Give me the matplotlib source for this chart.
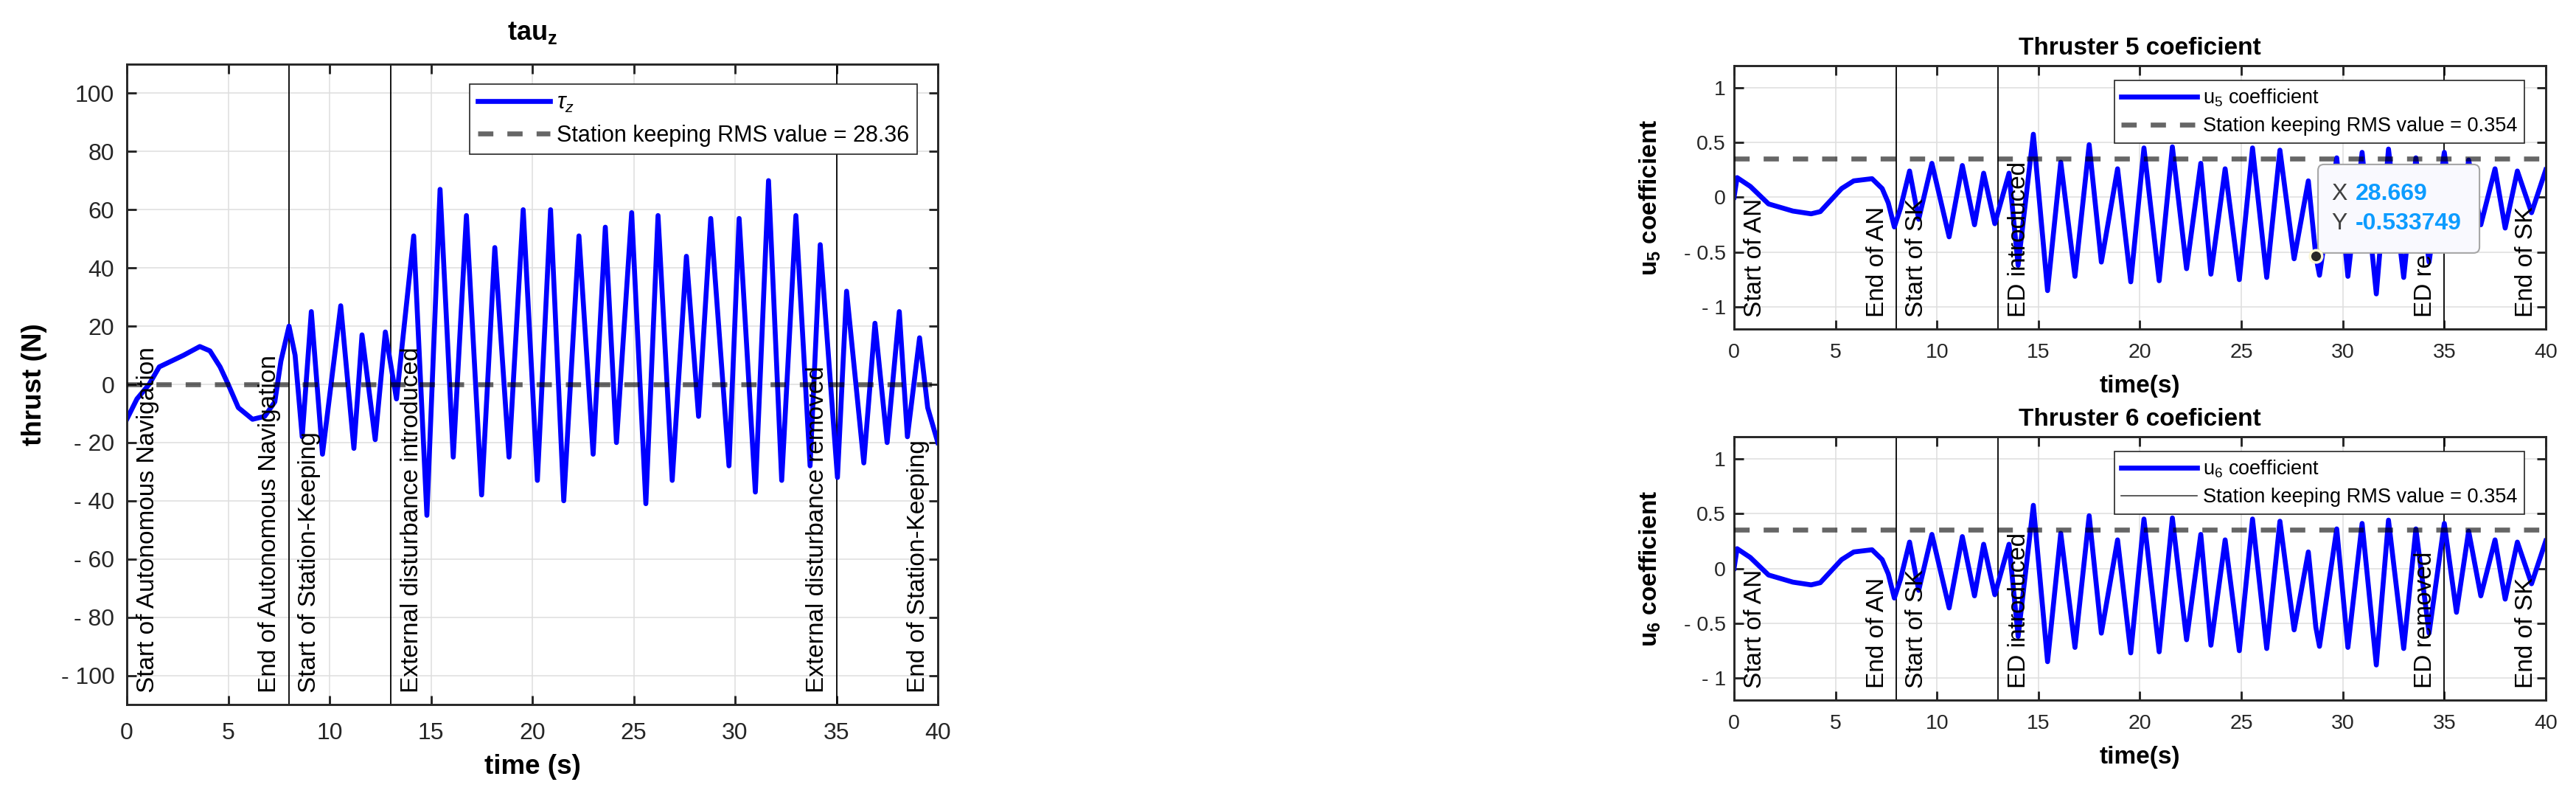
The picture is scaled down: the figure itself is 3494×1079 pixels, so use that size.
import matplotlib
matplotlib.use('Agg')
import matplotlib.pyplot as plt
import matplotlib.transforms as mtransforms
from matplotlib.lines import Line2D
from matplotlib.patches import FancyBboxPatch

plt.rcParams['font.family'] = ['Liberation Sans', 'DejaVu Sans']
plt.rcParams['mathtext.fontset'] = 'custom'
plt.rcParams['mathtext.rm'] = 'Liberation Sans'
plt.rcParams['mathtext.it'] = 'Liberation Sans:italic'
plt.rcParams['mathtext.bf'] = 'Liberation Sans:bold'

# tau_z (N) (picos y valles)
t_tau = [0.0, 0.5, 1.1, 1.6, 2.2, 2.8, 3.6, 4.1, 4.6, 5.0, 5.5, 6.2, 6.8, 7.3, 7.6,
         8.0, 8.3, 8.65, 9.1, 9.65, 10.55, 11.2, 11.6, 12.25, 12.75, 13.3, 14.15,
         14.8, 15.45, 16.1, 16.75, 17.5, 18.15, 18.85, 19.55, 20.25, 20.9, 21.55,
         22.3, 23.0, 23.6, 24.15, 24.9, 25.6, 26.2, 26.9, 27.6, 28.2, 28.8, 29.7,
         30.2, 31.0, 31.65, 32.3, 33.0, 33.7, 34.2, 35.05, 35.5, 36.35, 36.9, 37.5,
         38.1, 38.5, 39.1, 39.5, 40.0]
tau_z = [-12, -5, 0, 6, 8, 10, 13, 11.5, 6, 0, -8, -12, -11, -6, 8,
         20, 10, -18, 25, -24, 27, -22, 17, -19, 18, -5, 51,
         -45, 67, -25, 58, -38, 47, -25, 60, -33, 60, -40,
         51, -24, 54, -20, 59, -41, 58, -33, 44, -11, 57, -28,
         57, -37, 70, -33, 58, -28, 48, -32, 32, -27, 21, -20,
         25, -18, 16, -8, -20]

# coeficientes u5 / u6
t_u = [0.0, 0.15, 0.8, 1.7, 2.9, 3.8, 4.25, 5.3, 5.9, 6.8, 7.3, 7.6, 7.9, 8.2, 8.65,
       9.1, 9.75, 10.6, 11.25, 11.85, 12.3, 12.85, 13.55, 14.0, 14.75, 15.45, 16.1,
       16.8, 17.5, 18.1, 18.9, 19.55, 20.2, 20.95, 21.6, 22.3, 23.0, 23.5, 24.2,
       24.9, 25.55, 26.25, 26.9, 27.6, 28.3, 28.669, 28.85, 29.7, 30.25, 30.95,
       31.65, 32.25, 33.0, 33.6, 34.25, 35.0, 35.6, 36.2, 36.8, 37.5, 38.0, 38.6,
       39.3, 40.0]
u5 = [0.0, 0.18, 0.1, -0.06, -0.125, -0.15, -0.13, 0.08, 0.15, 0.17, 0.08, -0.05,
      -0.27, -0.1, 0.24, -0.2, 0.31, -0.36, 0.29, -0.25, 0.22, -0.24, 0.22, -0.62,
      0.575, -0.85, 0.32, -0.72, 0.48, -0.59, 0.26, -0.77, 0.45, -0.76, 0.46,
      -0.65, 0.31, -0.70, 0.26, -0.75, 0.45, -0.73, 0.43, -0.56, 0.15, -0.534,
      -0.71, 0.36, -0.72, 0.41, -0.88, 0.44, -0.73, 0.36, -0.59, 0.41, -0.40,
      0.34, -0.25, 0.26, -0.28, 0.24, -0.14, 0.25]
u6 = u5.copy()  # en la figura las dos curvas son iguales

event_x = [8, 13, 35]
labels_left = ['Start of Autonomous Navigation', 'End of Autonomous Navigation',
               'Start of Station-Keeping', 'External disturbance introduced',
               'External disturbance removed', 'End of Station-Keeping']
labels_right = ['Start of AN', 'End of AN', 'Start of SK', 'ED introduced',
                'ED removed', 'End of SK']
labels_x = [1.05, 7.05, 9.0, 14.05, 34.05, 39.05]

rms_tau_text = 28.36
rms_tau_line = 0
rms_u = 0.354
tip_x, tip_y = 28.669, -0.533749

xticks = list(range(0, 41, 5))
yticks_left = [100, 80, 60, 40, 20, 0, -20, -40, -60, -80, -100]
yticks_right = [1, 0.5, 0, -0.5, -1]


def fmt(v):
    s = ('%g' % abs(v))
    return '- ' + s if v < 0 else s


def style(ax, ylim, yticks, fs, xpad, ypad):
    ax.set_xlim(0, 40)
    ax.set_ylim(*ylim)
    ax.set_xticks(xticks)
    ax.set_yticks(yticks)
    ax.set_yticklabels([fmt(v) for v in yticks])
    ax.grid(True, color='#dedede', lw=1.1)
    ax.set_axisbelow(True)
    ax.tick_params(direction='in', top=True, right=True, length=9, width=2.1,
                   labelsize=fs, colors='#262626')
    ax.tick_params(axis='x', pad=xpad)
    ax.tick_params(axis='y', pad=ypad)
    for s in ax.spines.values():
        s.set_linewidth(2.1)
        s.set_color('#262626')
    for x in event_x:
        ax.axvline(x, color='k', lw=1.3, zorder=1.8)


fig = plt.figure(figsize=(34.94, 10.79), dpi=100)
axL = fig.add_axes([0.04923, 0.11492, 0.31483, 0.80445])
axT = fig.add_axes([0.67315, 0.58666, 0.31511, 0.33086])
axB = fig.add_axes([0.67315, 0.12048, 0.31511, 0.33086])

# --- tau_z ---
style(axL, (-110, 110), yticks_left, 23, 17, 12)
l1, = axL.plot(t_tau, tau_z, color='#0000ff', lw=4.8, zorder=2, label=r'$\tau_z$')
l2 = axL.axhline(rms_tau_line, color='k', alpha=0.6, lw=4.8, ls=(0, (3.1, 2.85)), zorder=3,
                 label='Station keeping RMS value = %.2f' % rms_tau_text)
for x, s in zip(labels_x, labels_left):
    axL.text(x, -106, s, rotation=90, ha='center', va='bottom', fontsize=24, zorder=4)
axL.set_title(r'$\mathbf{tau_z}$', fontsize=26, pad=24)
axL.set_xlabel('time (s)', fontsize=26.5, fontweight='bold', va='center')
axL.xaxis.set_label_coords(0.5, -0.0968)
axL.set_ylabel('thrust (N)', fontsize=26.5, fontweight='bold', va='center')
axL.yaxis.set_label_coords(-0.1145, 0.5)
leg = axL.legend(loc='upper right', bbox_to_anchor=(0.9745, 0.9689), borderaxespad=0,
                 fontsize=22, handlelength=3.2, handletextpad=0.3, borderpad=0.35,
                 labelspacing=0.45, fancybox=False, edgecolor='#262626', framealpha=1)
leg.get_frame().set_linewidth(1.2)

# --- thrusters 5 y 6 ---
for ax, u, n in [(axT, u5, 5), (axB, u6, 6)]:
    style(ax, (-1.2, 1.2), yticks_right, 20.5, 14, 8)
    ax.plot(t_u, u, color='#0000ff', lw=4.8, zorder=2, label=r'u$_%d$ coefficient' % n)
    ax.axhline(rms_u, color='k', alpha=0.6, lw=4.8, ls=(0, (3.1, 2.85)), zorder=3,
               label='Station keeping RMS value = %.3f' % rms_u)
    for x, s in zip(labels_x, labels_right):
        ax.text(x, -1.09, s, rotation=90, ha='center', va='bottom', fontsize=24, zorder=4)
    ax.set_title('Thruster %d coeficient' % n, fontsize=24, fontweight='bold', pad=10.5)
    ax.set_xlabel('time(s)', fontsize=24, fontweight='bold', va='center')
    ax.xaxis.set_label_coords(0.5, -0.218)
    ax.set_ylabel(r'$\mathbf{u_%d}$ coefficient' % n, fontsize=24, fontweight='bold',
                  va='center')
    ax.yaxis.set_label_coords(-0.1035, 0.5)

hT, lT = axT.get_legend_handles_labels()
hB, lB = axB.get_legend_handles_labels()
hB[1] = Line2D([], [], color='#404040', lw=1.2)
for ax, h, l in [(axT, hT, lT), (axB, hB, lB)]:
    lg = ax.legend(h, l, loc='upper right', bbox_to_anchor=(0.9737, 0.943), borderaxespad=0,
                   fontsize=19.5, handlelength=3.8, handletextpad=0.3, borderpad=0.35,
                   labelspacing=0.4, fancybox=False, edgecolor='#262626', framealpha=1)
    lg.get_frame().set_linewidth(1.2)
    lg.set_zorder(5)

# data tip en el thruster 5
tr = mtransforms.ScaledTranslation(tip_x, tip_y, axT.transData)
box = FancyBboxPatch((3, 4), 219, 120, boxstyle='round,pad=0,rounding_size=8',
                     transform=tr, facecolor='#f9f9fe', edgecolor='#a6a6a6', lw=1.5,
                     zorder=6, clip_on=False)
axT.add_patch(box)
axT.text(21, 84, 'X', transform=tr, fontsize=23, color='#404040', va='center', zorder=7)
axT.text(21, 44, 'Y', transform=tr, fontsize=23, color='#404040', va='center', zorder=7)
axT.text(54, 84, '%g' % tip_x, transform=tr, fontsize=23, fontweight='bold',
         color='#0d9cff', va='center', zorder=7)
axT.text(54, 44, '%g' % tip_y, transform=tr, fontsize=23, fontweight='bold',
         color='#0d9cff', va='center', zorder=7)
axT.plot(tip_x, tip_y, 'o', ms=12, mfc='#262626', mec='#fbf7d2', mew=2.5, zorder=7)

fig.savefig('out.png', dpi=100)
